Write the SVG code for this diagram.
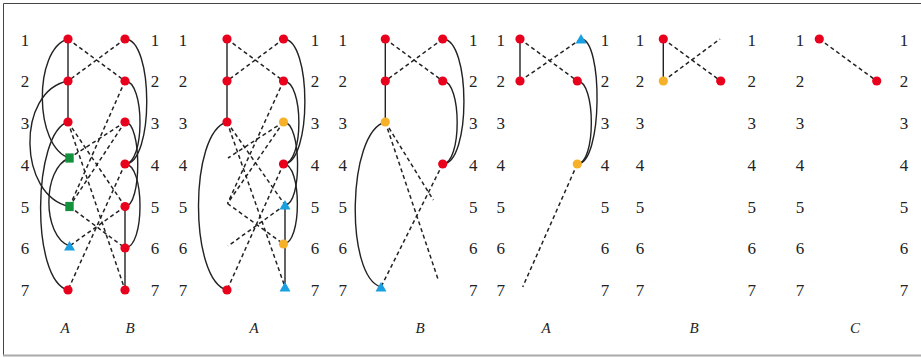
<svg xmlns="http://www.w3.org/2000/svg" width="921" height="358" viewBox="0 0 921 358">
<style>
.num text{font-family:"Liberation Serif","Times New Roman",serif;font-size:17px;fill:#222;text-anchor:middle}
.lab{font-family:"Liberation Serif","Times New Roman",serif;font-size:15px;font-style:italic;fill:#222;text-anchor:middle}
.s{stroke:#222;stroke-width:1.4;fill:none}
.d{stroke:#222;stroke-width:1.5;fill:none;stroke-dasharray:4 3}
.r{fill:#e8001c}
.y{fill:#f6b128}
.b{fill:#1a9fe0}
.g{fill:#13913d}
</style>
<defs>
<circle id="cr" r="4.6" class="r"/>
<circle id="cy" r="4.6" class="y"/>
<path id="tb" d="M0,-5 L5.5,4.5 L-5.5,4.5 Z" class="b"/>
<rect id="sg" x="-4.2" y="-4.6" width="8.4" height="9.2" class="g"/>
</defs>
<g id="frame">
<line x1="3.5" y1="3.5" x2="921" y2="3.5" stroke="#444" stroke-width="1"/>
<line x1="3.5" y1="3.5" x2="3.5" y2="355" stroke="#444" stroke-width="1"/>
<line x1="3" y1="355.5" x2="921" y2="355.5" stroke="#aaa" stroke-width="2"/>
</g>
<g id="row-labels" class="num">
<g transform="translate(25,0)"><text y="45.5">1</text><text y="87">2</text><text y="128.5">3</text><text y="170.5">4</text><text y="212.5">5</text><text y="254">6</text><text y="296">7</text></g>
<g transform="translate(155,0)"><text y="45.5">1</text><text y="87">2</text><text y="128.5">3</text><text y="170.5">4</text><text y="212.5">5</text><text y="254">6</text><text y="296">7</text></g>
<g transform="translate(183,0)"><text y="45.5">1</text><text y="87">2</text><text y="128.5">3</text><text y="170.5">4</text><text y="212.5">5</text><text y="254">6</text><text y="296">7</text></g>
<g transform="translate(315,0)"><text y="45.5">1</text><text y="87">2</text><text y="128.5">3</text><text y="170.5">4</text><text y="212.5">5</text><text y="254">6</text><text y="296">7</text></g>
<g transform="translate(342.7,0)"><text y="45.5">1</text><text y="87">2</text><text y="128.5">3</text><text y="170.5">4</text><text y="212.5">5</text><text y="254">6</text><text y="296">7</text></g>
<g transform="translate(473.3,0)"><text y="45.5">1</text><text y="87">2</text><text y="128.5">3</text><text y="170.5">4</text><text y="212.5">5</text><text y="254">6</text><text y="296">7</text></g>
<g transform="translate(500.7,0)"><text y="45.5">1</text><text y="87">2</text><text y="128.5">3</text><text y="170.5">4</text><text y="212.5">5</text><text y="254">6</text><text y="296">7</text></g>
<g transform="translate(605,0)"><text y="45.5">1</text><text y="87">2</text><text y="128.5">3</text><text y="170.5">4</text><text y="212.5">5</text><text y="254">6</text><text y="296">7</text></g>
<g transform="translate(640,0)"><text y="45.5">1</text><text y="87">2</text><text y="128.5">3</text><text y="170.5">4</text><text y="212.5">5</text><text y="254">6</text><text y="296">7</text></g>
<g transform="translate(751.7,0)"><text y="45.5">1</text><text y="87">2</text><text y="128.5">3</text><text y="170.5">4</text><text y="212.5">5</text><text y="254">6</text><text y="296">7</text></g>
<g transform="translate(800,0)"><text y="45.5">1</text><text y="87">2</text><text y="128.5">3</text><text y="170.5">4</text><text y="212.5">5</text><text y="254">6</text><text y="296">7</text></g>
<g transform="translate(904,0)"><text y="45.5">1</text><text y="87">2</text><text y="128.5">3</text><text y="170.5">4</text><text y="212.5">5</text><text y="254">6</text><text y="296">7</text></g>
</g>
<g id="panel-labels" class="lab">
<text x="65" y="333">A</text><text x="130" y="333">B</text>
<text x="254" y="333">A</text>
<text x="420" y="333">B</text>
<text x="546" y="333">A</text>
<text x="694" y="333">B</text>
<text x="855" y="333">C</text>
</g>
<g id="connectors">
<!-- panel 1 -->
<path class="s" d="M68,39 V122"/>
<path class="s" d="M125,206.5 V290"/>
<path class="s" d="M68,39 C33,49 34,148 69.5,158"/>
<path class="s" d="M68,81 C16,91 18,196 69.5,206.5"/>
<path class="s" d="M68,122 C33,132 30,280 68,290"/>
<path class="s" d="M69.5,158 C42,168 42,236 69.5,246"/>
<path class="s" d="M125,39 C154,39 154,164 125,164"/>
<path class="s" d="M125,81 C145,81 145,164 125,164"/>
<path class="s" d="M125,122 C142,122 142,206.5 125,206.5"/>
<path class="s" d="M125,164 C145,164 145,248 125,248"/>
<path class="d" d="M68,39 L125,81"/>
<path class="d" d="M125,39 L68,81"/>
<path class="d" d="M125,81 L69.5,206.5"/>
<path class="d" d="M125,122 L69.5,158"/>
<path class="d" d="M125,122 L69.5,206.5"/>
<path class="d" d="M68,122 L125,206.5"/>
<path class="d" d="M68,122 L125,290"/>
<path class="d" d="M69.5,206.5 L125,248"/>
<path class="d" d="M125,164 L68,290"/>
<path class="d" d="M125,206.5 L69.5,246"/>
<!-- panel 2 -->
<path class="s" d="M227,39 V122"/>
<path class="s" d="M285,205 V287"/>
<path class="s" d="M227,122 C189,132 189,280 227,290"/>
<path class="s" d="M283.5,39 C312,39 312,164 283.5,164"/>
<path class="s" d="M283.5,81 C304,81 304,164 283.5,164"/>
<path class="s" d="M283.5,122 C302,122 302,205 285,205"/>
<path class="s" d="M283.5,164 C302,164 302,244 283.5,244"/>
<path class="d" d="M227,39 L283.5,81"/>
<path class="d" d="M283.5,39 L227,81"/>
<path class="d" d="M283.5,81 L227.5,203.5"/>
<path class="d" d="M283.5,122 L228,158"/>
<path class="d" d="M283.5,122 L227.5,203.5"/>
<path class="d" d="M227,122 L285,205"/>
<path class="d" d="M227,122 L285,287"/>
<path class="d" d="M227.5,203.5 L283.5,244"/>
<path class="d" d="M283.5,164 L227,290"/>
<path class="d" d="M285,205 L228,246"/>
<!-- panel 3 -->
<path class="s" d="M385.3,39 V122"/>
<path class="s" d="M385.3,122 C347,132 345,277 381,287"/>
<path class="s" d="M442.7,39 C471,39 471,164 442.7,164"/>
<path class="s" d="M442.7,81 C462,81 462,164 442.7,164"/>
<path class="d" d="M385.3,39 L442.7,81"/>
<path class="d" d="M442.7,39 L385.3,81"/>
<path class="d" d="M385.3,122 L433.3,200"/>
<path class="d" d="M385.3,122 L438.3,280"/>
<path class="d" d="M442.7,164 L381,287"/>
<!-- panel 4 -->
<path class="s" d="M520,39 V81"/>
<path class="s" d="M581,39 C603,39 603,164 577.3,164"/>
<path class="s" d="M577.3,81 C596,81 596,164 577.3,164"/>
<path class="d" d="M520,39 L577.3,81"/>
<path class="d" d="M581,39 L520,81"/>
<path class="d" d="M577.3,164 L522.7,287"/>
<!-- panel 5 -->
<path class="s" d="M663.3,39 V81"/>
<path class="d" d="M663.3,39 L720.7,81"/>
<path class="d" d="M663.3,81 L720,39"/>
<!-- panel 6 -->
<path class="d" d="M819.3,39 L876.7,81"/>
</g>
<g id="panel1-nodes">
<use href="#cr" x="68" y="39"/><use href="#cr" x="68" y="81"/><use href="#cr" x="68" y="122"/>
<use href="#sg" x="69.5" y="158"/><use href="#sg" x="69.5" y="206.5"/><use href="#tb" x="69.5" y="246"/>
<use href="#cr" x="68" y="290"/>
<use href="#cr" x="125" y="39"/><use href="#cr" x="125" y="81"/><use href="#cr" x="125" y="122"/>
<use href="#cr" x="125" y="164"/><use href="#cr" x="125" y="206.5"/><use href="#cr" x="125" y="248"/>
<use href="#cr" x="125" y="290"/>
</g>
<g id="panel2-nodes">
<use href="#cr" x="227" y="39"/><use href="#cr" x="227" y="81"/><use href="#cr" x="227" y="122"/>
<use href="#cr" x="227" y="290"/>
<use href="#cr" x="283.5" y="39"/><use href="#cr" x="283.5" y="81"/><use href="#cy" x="283.5" y="122"/>
<use href="#cr" x="283.5" y="164"/><use href="#tb" x="285" y="205"/><use href="#cy" x="283.5" y="244"/>
<use href="#tb" x="285" y="287"/>
</g>
<g id="panel3-nodes">
<use href="#cr" x="385.3" y="39"/><use href="#cr" x="385.3" y="81"/><use href="#cy" x="385.3" y="122"/>
<use href="#tb" x="381" y="287"/>
<use href="#cr" x="442.7" y="39"/><use href="#cr" x="442.7" y="81"/><use href="#cr" x="442.7" y="164"/>
</g>
<g id="panel4-nodes">
<use href="#cr" x="520" y="39"/><use href="#cr" x="520" y="81"/>
<use href="#tb" x="581" y="39"/><use href="#cr" x="577.3" y="81"/><use href="#cy" x="577.3" y="164"/>
</g>
<g id="panel5-nodes">
<use href="#cr" x="663.3" y="39"/><use href="#cy" x="663.3" y="81"/><use href="#cr" x="720.7" y="81"/>
</g>
<g id="panel6-nodes">
<use href="#cr" x="819.3" y="39"/><use href="#cr" x="876.7" y="81"/>
</g>
</svg>
